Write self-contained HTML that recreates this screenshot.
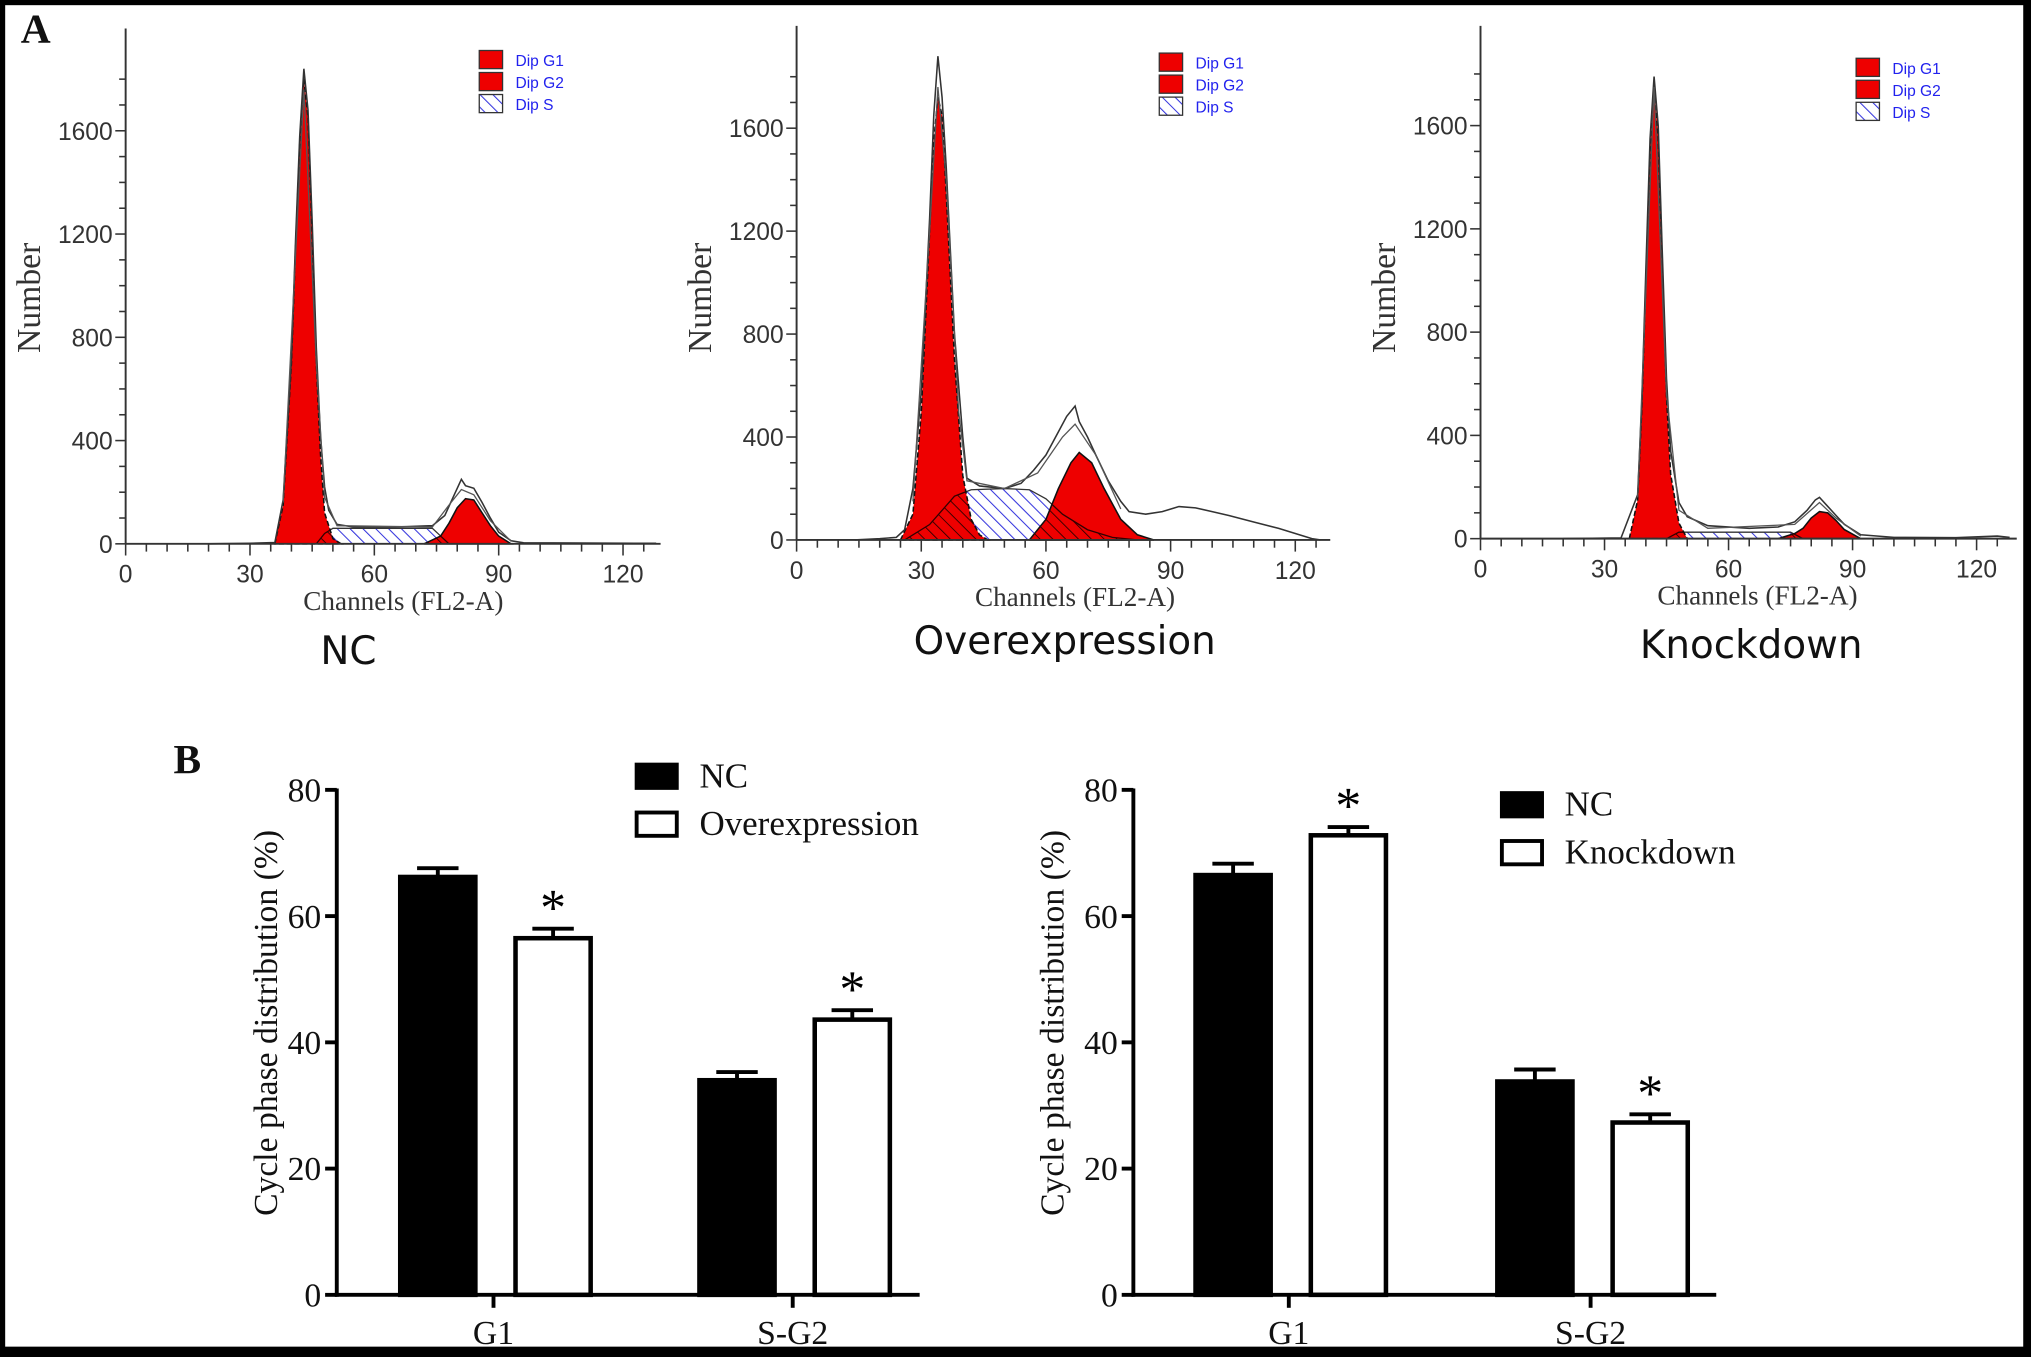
<!DOCTYPE html>
<html><head><meta charset="utf-8">
<style>
html,body{margin:0;padding:0;background:#000;}
svg{display:block;}
</style></head>
<body>
<svg id="fig" xmlns="http://www.w3.org/2000/svg" width="2031" height="1357" viewBox="0 0 1568 1048" preserveAspectRatio="none">
<defs>
<pattern id="blueHatch" patternUnits="userSpaceOnUse" width="7" height="7" patternTransform="rotate(-45)">
<rect width="7" height="7" fill="#fff"/><line x1="0" y1="0" x2="0" y2="7" stroke="#3333dd" stroke-width="1.6"/>
</pattern>
<pattern id="darkHatch" patternUnits="userSpaceOnUse" width="7" height="7" patternTransform="rotate(-45)">
<line x1="0" y1="0" x2="0" y2="7" stroke="#300" stroke-width="1.4"/>
</pattern>
</defs>
<rect x="4" y="4" width="1558" height="1036" fill="#fff"/>
<g id="root"></g>
</svg>
<script>
// ---- Histogram data (channel, count) ----
const ncG1=[[36,0],[38,150],[40,700],[41,1150],[42,1550],[43,1800],[44,1650],[45,1200],[46,700],[47,350],[48,120],[50,20],[52,0]];
const ncG2=[[72,0],[76,30],[78,80],[80,140],[82,175],[84,170],[86,120],[88,70],[90,30],[93,0]];
const ncS=[[46,0],[48,40],[50,60],[74,60],[76,30],[78,0]];
const ncTot=[[20,0],[30,2],[36,5],[38,170],[40,720],[41,1180],[42,1580],[43,1840],[44,1680],[45,1250],[46,760],[47,420],[48,220],[49,130],[51,75],[55,65],[65,65],[74,70],[77,110],[79,180],[81,250],[82,225],[84,215],[86,160],[88,100],[90,45],[93,12],[96,4],[110,3],[128,2]];
const ncTot2=[[38,160],[43,1760],[46,700],[48,180],[51,70],[74,65],[78,150],[81,210],[84,190],[88,90],[93,10]];
const ovG1=[[25,0],[28,100],[30,500],[32,1200],[33,1550],[34,1720],[35,1650],[36,1350],[38,700],[40,250],[42,80],[44,20],[46,0]];
const ovG2=[[56,0],[60,80],[63,200],[66,300],[68,340],[71,300],[74,200],[78,80],[82,20],[86,0]];
const ovS=[[26,0],[32,60],[38,170],[42,195],[50,200],[56,195],[60,160],[64,100],[70,40],[76,10],[82,0]];
const ovTot=[[14,0],[20,5],[24,10],[26,40],[28,200],[30,580],[32,1250],[33,1650],[34,1880],[35,1720],[36,1450],[38,800],[40,400],[41,240],[44,210],[50,200],[54,220],[57,270],[60,330],[63,420],[65,480],[67,520],[68,460],[70,400],[72,330],[75,230],[78,150],[80,110],[84,100],[88,110],[92,130],[96,125],[100,110],[104,95],[110,70],[116,45],[120,25],[124,5],[126,0]];
const ovTot2=[[28,150],[32,1200],[34,1760],[36,1400],[39,500],[41,230],[50,200],[58,260],[64,400],[67,450],[72,330],[78,120]];
const kdG1=[[36,0],[38,150],[39,500],[40,1000],[41,1500],[42,1770],[43,1550],[44,1050],[45,550],[46,250],[48,60],[50,0]];
const kdG2=[[72,0],[76,20],[78,40],[80,80],[82,105],[84,100],[86,70],[88,35],[92,0]];
const kdS=[[45,0],[48,25],[75,25],[78,0]];
const kdTot=[[20,0],[34,3],[38,170],[39,520],[40,1050],[41,1550],[42,1790],[43,1600],[44,1100],[45,620],[46,340],[48,140],[50,85],[55,50],[65,40],[72,45],[76,65],[79,110],[81,150],[82,160],[84,125],[86,90],[88,55],[92,15],[100,5],[115,4],[125,10],[128,5]];
const kdTot2=[[38,160],[42,1750],[45,560],[48,110],[55,40],[76,55],[82,140],[86,80],[92,10]];
const histYTicks=[0,400,800,1200,1600];
const histXTicks=[0,30,60,90,120];
const legendLabels=["Dip G1","Dip G2","Dip S"];
const histTitles=["NC","Overexpression","Knockdown"];

// ---- Bar chart data ----
const barCats=["G1","S-G2"];
const bar1Series=["NC","Overexpression"];
const bar1NC=[66.2,34.0];
const bar1NCErr=[1.4,1.3];
const bar1Other=[56.5,43.6];
const bar1OtherErr=[1.5,1.5];
const bar2Series=["NC","Knockdown"];
const bar2NC=[66.5,33.8];
const bar2NCErr=[1.8,1.9];
const bar2Other=[72.8,27.3];
const bar2OtherErr=[1.3,1.3];
const barYTicks=[0,20,40,60,80];

const NS="http://www.w3.org/2000/svg";
const root=document.getElementById('root');
function mk(tag,attrs,parent){const e=document.createElementNS(NS,tag);for(const k in attrs)e.setAttribute(k,attrs[k]);(parent||root).appendChild(e);return e;}

const panels=[
 {x0:97,y0:420,y1600:101,x120:481,xend:510,ytop:22,g1:ncG1,g2:ncG2,s:ncS,tot:ncTot,tot2:ncTot2,lx:370,ly:39,tx:269,ty:505,numX:22},
 {x0:615,y0:417,y1600:99,x120:1000,xend:1027,ytop:20,g1:ovG1,g2:ovG2,s:ovS,tot:ovTot,tot2:ovTot2,lx:895,ly:41,tx:822,ty:497,numX:540},
 {x0:1143,y0:416,y1600:97,x120:1526,xend:1557,ytop:20,g1:kdG1,g2:kdG2,s:kdS,tot:kdTot,tot2:kdTot2,lx:1433,ly:45,tx:1352,ty:500,numX:1068}
];
panels.forEach((p,i)=>{
 const g=mk('g',{});
 
 
 const sx=c=>p.x0+(p.x120-p.x0)*c/120;
 const sy=v=>p.y0-(p.y0-p.y1600)*v/1600;
 const area=pts=>'M'+sx(pts[0][0])+','+sy(0)+pts.map(q=>'L'+sx(q[0]).toFixed(1)+','+sy(q[1]).toFixed(1)).join('')+'L'+sx(pts[pts.length-1][0])+','+sy(0)+'Z';
 const line=pts=>pts.map((q,j)=>(j?'L':'M')+sx(q[0]).toFixed(1)+','+sy(q[1]).toFixed(1)).join('');
 const cid='clipRed'+i;
 const cp=mk('clipPath',{id:cid},g);
 mk('path',{d:area(p.g1)},cp);mk('path',{d:area(p.g2)},cp);
 const sA=mk('path',{d:area(p.s),fill:'url(#blueHatch)',stroke:'#333','stroke-width':1},g);
 
 
 const g1=mk('path',{d:area(p.g1),fill:'#ee0000',stroke:'#111','stroke-width':1.2,'stroke-dasharray':'4 2'},g);
 
 
 const g2=mk('path',{d:area(p.g2),fill:'#ee0000',stroke:'#111','stroke-width':1.2},g);
 
 
 mk('path',{d:area(p.s),fill:'url(#darkHatch)','clip-path':'url(#'+cid+')',stroke:'#300','stroke-width':1},g);
 const t=mk('path',{d:line(p.tot),fill:'none',stroke:'#333','stroke-width':1.2},g);
 
 
 mk('path',{d:line(p.tot2),fill:'none',stroke:'#555','stroke-width':1},g);
 mk('line',{x1:p.x0,y1:p.ytop,x2:p.x0,y2:p.y0,stroke:'#333','stroke-width':1.5},g);
 mk('line',{x1:p.x0,y1:p.y0,x2:p.xend,y2:p.y0,stroke:'#333','stroke-width':1.5},g);
 for(let v=0;v<=1850;v+=100){const y=sy(v);if(y<p.ytop)break;const maj=v%400===0;mk('line',{x1:p.x0-(maj?8:5),y1:y,x2:p.x0,y2:y,stroke:'#333','stroke-width':1.2},g);}
 histYTicks.forEach(v=>{const tx=mk('text',{x:p.x0-10,y:sy(v)+7,'text-anchor':'end','font-family':'Liberation Sans, sans-serif','font-size':19,fill:'#333'},g);tx.textContent=v;});
 for(let c=0;c<=128;c+=5){const x=sx(c);mk('line',{x1:x,y1:p.y0,x2:x,y2:p.y0+(c%30===0?9:6),stroke:'#333','stroke-width':1.2},g);}
 histXTicks.forEach(c=>{const tx=mk('text',{x:sx(c),y:p.y0+30,'text-anchor':'middle','font-family':'Liberation Sans, sans-serif','font-size':19,fill:'#333'},g);tx.textContent=c;});
 const xl=mk('text',{x:sx(67),y:p.y0+51,'text-anchor':'middle','font-family':'Liberation Serif, serif','font-size':21,fill:'#333'},g);xl.textContent='Channels (FL2-A)';
 
 
 const yl=mk('text',{x:0,y:0,transform:'translate('+(p.numX+9)+',230) rotate(-90)','text-anchor':'middle','font-family':'Liberation Serif, serif','font-size':26,fill:'#333'},g);yl.textContent='Number';
 
 
 legendLabels.forEach((lab,j)=>{
  const lg=mk('g',{},g);
  
  
  mk('rect',{x:p.lx,y:p.ly+j*17,width:18,height:14,fill:j<2?'#ee0000':'url(#blueHatch)',stroke:'#333','stroke-width':1},lg);
  const tx=mk('text',{x:p.lx+28,y:p.ly+j*17+12,'font-family':'Liberation Sans, sans-serif','font-size':12,fill:'#2222ee'},lg);tx.textContent=lab;
 });
 const tt=mk('text',{x:p.tx,y:p.ty+8,'text-anchor':'middle','font-family':'DejaVu Sans, sans-serif','font-size':30,fill:'#111'},g);tt.textContent=histTitles[i];
 
 
});
const A=mk('text',{x:16,y:33,'font-family':'Liberation Serif, serif','font-size':32,'font-weight':'bold',fill:'#111'});A.textContent='A';


const B=mk('text',{x:134,y:597,'font-family':'Liberation Serif, serif','font-size':32,'font-weight':'bold',fill:'#111'});B.textContent='B';



// ---- Bar charts ----
const bcs=[
 {ax:260,xend:710,y0:1000,y80:610,cat:[381,612],series:bar1Series,nc:bar1NC,ncE:bar1NCErr,ot:bar1Other,otE:bar1OtherErr,lx:490,ly:589,tx:205,star:[true,true]},
 {ax:875,xend:1325,y0:1000,y80:610,cat:[995,1228],series:bar2Series,nc:bar2NC,ncE:bar2NCErr,ot:bar2Other,otE:bar2OtherErr,lx:1158,ly:611,tx:812,star:[true,true]}
];
bcs.forEach((b,i)=>{
 const g=mk('g',{});
 
 
 const sy=v=>b.y0-(b.y0-b.y80)*v/80;
 const bw=58;
 barCats.forEach((c,k)=>{
  const cx=b.cat[k];
  [[b.nc,b.ncE,'#000',cx-72],[b.ot,b.otE,'#fff',cx+17]].forEach((s,si)=>{
   const v=s[0][k],e=s[1][k],x=s[3];
   const ey=sy(v+e);
   mk('line',{x1:x+bw/2,y1:sy(v),x2:x+bw/2,y2:ey,stroke:'#000','stroke-width':3},g);
   mk('line',{x1:x+bw/2-16,y1:ey,x2:x+bw/2+16,y2:ey,stroke:'#000','stroke-width':3},g);
   const r=mk('rect',{x:x,y:sy(v),width:bw,height:b.y0-sy(v),fill:s[2],stroke:'#000','stroke-width':3.5},g);
   
   
   if(si===1&&b.star[k]){const st=mk('text',{x:x+bw/2,y:ey-3,'text-anchor':'middle','font-family':'Liberation Serif, serif','font-size':40,fill:'#000'},g);st.textContent='*';
    
    }
  });
  mk('line',{x1:cx,y1:b.y0,x2:cx,y2:b.y0+10,stroke:'#000','stroke-width':3},g);
  const lt=mk('text',{x:cx,y:1038,'text-anchor':'middle','font-family':'Liberation Serif, serif','font-size':26,fill:'#111'},g);lt.textContent=c;
  
  
 });
 mk('line',{x1:b.ax,y1:b.y80-1,x2:b.ax,y2:b.y0+1.5,stroke:'#000','stroke-width':3},g);
 mk('line',{x1:b.ax-1.5,y1:b.y0,x2:b.xend,y2:b.y0,stroke:'#000','stroke-width':3},g);
 barYTicks.forEach(v=>{
  mk('line',{x1:b.ax-9,y1:sy(v),x2:b.ax,y2:sy(v),stroke:'#000','stroke-width':3},g);
  const t=mk('text',{x:b.ax-12,y:sy(v)+9,'text-anchor':'end','font-family':'Liberation Serif, serif','font-size':26,fill:'#111'},g);t.textContent=v;
 });
 const yt=mk('text',{x:0,y:0,transform:'translate('+(b.tx+9)+',790) rotate(-90)','text-anchor':'middle','font-family':'Liberation Serif, serif','font-size':26,fill:'#111'},g);yt.textContent='Cycle phase distribution (%)';
 
 
 b.series.forEach((s,j)=>{
  const lg=mk('g',{},g);
  
  
  mk('rect',{x:b.lx+1.5,y:b.ly+j*37+1.5,width:31,height:18,fill:j?'#fff':'#000',stroke:'#000','stroke-width':3},lg);
  const t=mk('text',{x:b.lx+50,y:b.ly+j*37+19,'font-family':'Liberation Serif, serif','font-size':27,fill:'#111'},lg);t.textContent=s;
 });
});
</script>
</body></html>
